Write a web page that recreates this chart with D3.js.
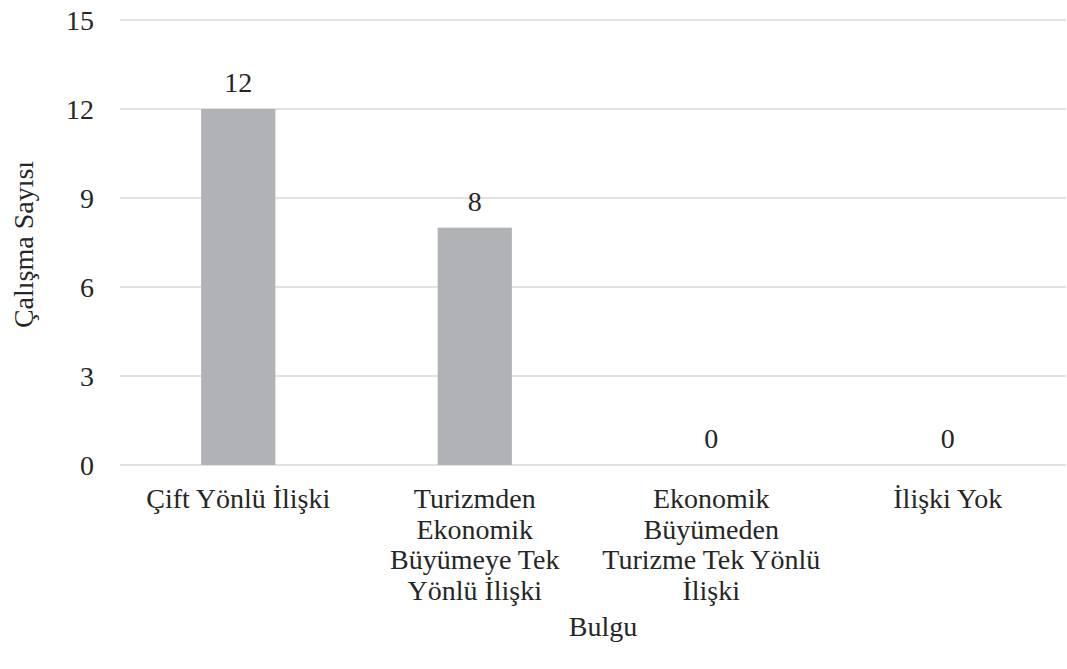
<!DOCTYPE html>
<html lang="tr">
<head>
<meta charset="utf-8">
<title>Bulgu</title>
<script src="https://d3js.org/d3.v7.min.js"></script>
<style>
  body { margin: 0; background: #fff; }
  text { font-family: "Liberation Serif", "Times New Roman", serif; fill: #262626; }
</style>
</head>
<body>
<script>
// data
var categories = ["Çift Yönlü İlişki", "Turizmden Ekonomik Büyümeye Tek Yönlü İlişki", "Ekonomik Büyümeden Turizme Tek Yönlü İlişki", "İlişki Yok"];
var labelLines = [["Çift Yönlü İlişki"], ["Turizmden", "Ekonomik", "Büyümeye Tek", "Yönlü İlişki"], ["Ekonomik", "Büyümeden", "Turizme Tek Yönlü", "İlişki"], ["İlişki Yok"]];
var values = [12, 8, 0, 0];
var yTicks = [0, 3, 6, 9, 12, 15];

var w = 1067, h = 669;
var plotLeft = 120, plotRight = 1066, plotTop = 20, plotBottom = 465;
var fs = "28px";

var svg = d3.select("body").append("svg").attr("width", w).attr("height", h);

var x = d3.scaleBand().domain(categories).range([plotLeft, plotRight]).paddingInner(0.686).paddingOuter(0.343);
var y = d3.scaleLinear().domain([0, 15]).range([plotBottom, plotTop]);

// gridlines
svg.append("g").selectAll("line").data(yTicks).enter().append("line")
  .attr("x1", plotLeft).attr("x2", plotRight)
  .attr("y1", function(d) { return y(d); }).attr("y2", function(d) { return y(d); })
  .attr("stroke", "#d9d9d9").attr("stroke-width", 1.5);

// y axis labels
var yAxis = d3.axisLeft(y).tickValues(yTicks).tickSize(0).tickPadding(0);
var gy = svg.append("g").attr("transform", "translate(94,0)").call(yAxis);
gy.select(".domain").remove();
gy.selectAll("text").style("font-size", fs).attr("fill", "#262626").attr("dy", "0.34em");

// bars
svg.append("g").selectAll("rect").data(values).enter().append("rect")
  .attr("x", function(d, i) { return x(categories[i]); })
  .attr("y", function(d) { return y(d); })
  .attr("width", x.bandwidth())
  .attr("height", function(d) { return plotBottom - y(d); })
  .attr("fill", "#b1b2b5");

// value labels
svg.append("g").selectAll("text").data(values).enter().append("text")
  .attr("x", function(d, i) { return x(categories[i]) + x.bandwidth() / 2; })
  .attr("y", function(d) { return y(d) - 17; })
  .attr("text-anchor", "middle")
  .style("font-size", fs)
  .text(function(d) { return d; });

// category labels
var cat = svg.append("g").selectAll("text").data(labelLines).enter().append("text")
  .attr("text-anchor", "middle")
  .style("font-size", fs)
  .attr("transform", function(d, i) { return "translate(" + (x(categories[i]) + x.bandwidth() / 2) + ",508)"; });
cat.selectAll("tspan").data(function(d) { return d; }).enter().append("tspan")
  .attr("x", 0).attr("dy", function(d, i) { return i === 0 ? 0 : 30.5; })
  .text(function(d) { return d; });

// axis titles
svg.append("text").attr("x", (plotLeft + plotRight) / 2 + 10).attr("y", 636)
  .attr("text-anchor", "middle").style("font-size", fs).text("Bulgu");
svg.append("text").attr("transform", "translate(33," + ((plotTop + plotBottom) / 2 + 2) + ") rotate(-90)")
  .attr("text-anchor", "middle").style("font-size", fs).text("Çalışma Sayısı");
</script>
</body>
</html>
